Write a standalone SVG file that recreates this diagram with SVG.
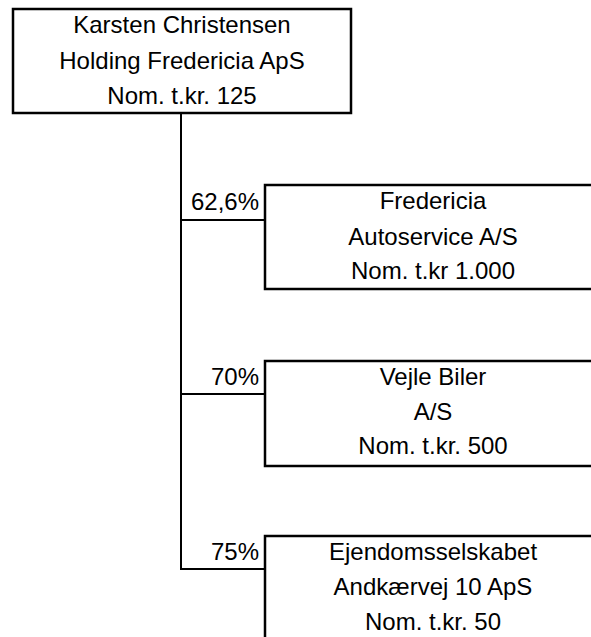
<svg xmlns="http://www.w3.org/2000/svg" width="591" height="637" viewBox="0 0 591 637">
<style>
.box{fill:#fff;stroke:#000;stroke-width:2.5}
.con{fill:none;stroke:#000;stroke-width:2}
text{font-family:"Liberation Sans",Arial,sans-serif;font-size:24px;fill:#000}
.c{text-anchor:middle}
.r{text-anchor:end}
</style>
<rect width="591" height="637" fill="#fff"/>
<g id="connectors">
<path class="con" d="M181,113 V570"/>
<path class="con" d="M181,220 H265"/>
<path class="con" d="M181,394 H265"/>
<path class="con" d="M181,569 H265"/>
<text class="r" x="259" y="210">62,6%</text>
<text class="r" x="259" y="385">70%</text>
<text class="r" x="259" y="560">75%</text>
</g>
<g id="holding">
<rect class="box" x="13" y="9" width="338" height="104"/>
<text class="c" x="182" y="33">Karsten Christensen</text>
<text class="c" x="182" y="69">Holding Fredericia ApS</text>
<text class="c" x="182" y="104">Nom. t.kr. 125</text>
</g>
<g id="fredericia">
<rect class="box" x="265" y="185" width="338" height="104"/>
<text class="c" x="433" y="209">Fredericia</text>
<text class="c" x="433" y="245">Autoservice A/S</text>
<text class="c" x="433" y="279">Nom. t.kr 1.000</text>
</g>
<g id="vejle">
<rect class="box" x="265" y="361" width="338" height="105"/>
<text class="c" x="433" y="385">Vejle Biler</text>
<text class="c" x="433" y="420">A/S</text>
<text class="c" x="433" y="454">Nom. t.kr. 500</text>
</g>
<g id="ejendom">
<rect class="box" x="265" y="536" width="338" height="105"/>
<text class="c" x="433" y="560">Ejendomsselskabet</text>
<text class="c" x="433" y="595">Andkærvej 10 ApS</text>
<text class="c" x="433" y="630">Nom. t.kr. 50</text>
</g>
</svg>
